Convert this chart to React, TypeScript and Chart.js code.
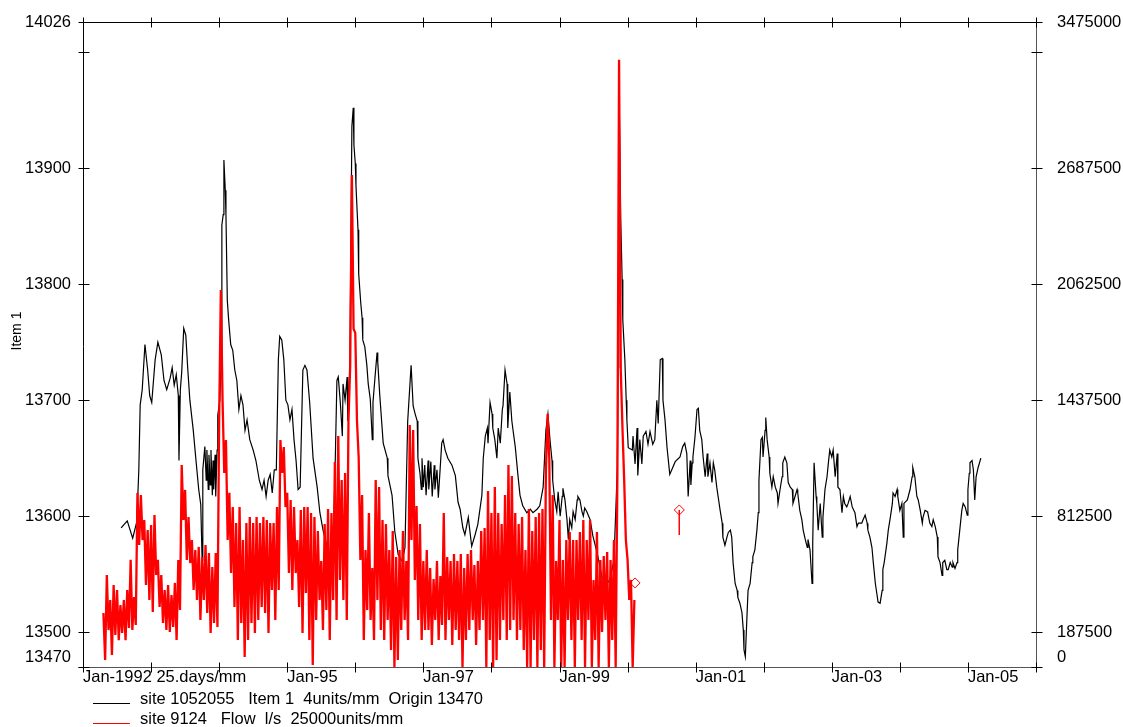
import React, { useEffect, useRef } from 'react';
import { Chart, registerables } from 'chart.js';

Chart.register(...registerables);

// ---------- axis ticks ----------
const xTickYears = [1992, 1993, 1994, 1995, 1996, 1997, 1998, 1999, 2000, 2001, 2002, 2003, 2004, 2005, 2006];
const xTickLabels = ['Jan-1992 25.days/mm', '', '', 'Jan-95', '', 'Jan-97', '', 'Jan-99', '', 'Jan-01', '', 'Jan-03', '', 'Jan-05', ''];
const leftTicks = [13470, 13500, 13600, 13700, 13800, 13900, 14000, 14026];
const leftTickLabels = ['13470', '13500', '13600', '13700', '13800', '13900', '', '14026'];
const rightTicks = [0, 187500, 812500, 1437500, 2062500, 2687500, 3312500, 3475000];
const rightTickLabels = ['0', '187500', '812500', '1437500', '2062500', '2687500', '', '3475000'];

// ---------- legend ----------
const legendLabels = [
  'site 1052055   Item 1  4units/mm  Origin 13470',
  'site 9124   Flow  l/s  25000units/mm',
];
const axisTitle = 'Item 1';

// ---------- black series: site 1052055 Item 1 (decimal year, level) ----------
const blackYear = [
  1992.56, 1992.65, 1992.73, 1992.79, 1992.82, 1992.84, 1992.87, 1992.91, 1992.95, 1992.98,
  1993.01, 1993.06, 1993.10, 1993.15, 1993.19, 1993.23, 1993.28, 1993.31, 1993.34, 1993.37,
  1993.40, 1993.41, 1993.43, 1993.45, 1993.48, 1993.51, 1993.54, 1993.57, 1993.62, 1993.66,
  1993.70, 1993.73, 1993.75, 1993.76, 1993.79, 1993.81, 1993.82, 1993.84, 1993.85, 1993.87,
  1993.88, 1993.90, 1993.91, 1993.92, 1993.94, 1993.95, 1993.97, 1993.98, 1994.01, 1994.03,
  1994.04, 1994.06, 1994.07, 1994.09, 1994.10, 1994.12, 1994.14, 1994.17, 1994.20, 1994.23,
  1994.26, 1994.29, 1994.32, 1994.35, 1994.38, 1994.41, 1994.45, 1994.50, 1994.54, 1994.59,
  1994.63, 1994.66, 1994.69, 1994.72, 1994.75, 1994.78, 1994.81, 1994.84, 1994.87, 1994.89,
  1994.92, 1994.95, 1994.98, 1995.01, 1995.04, 1995.07, 1995.10, 1995.13, 1995.16, 1995.19,
  1995.23, 1995.26, 1995.29, 1995.33, 1995.38, 1995.44, 1995.48, 1995.53, 1995.58, 1995.63,
  1995.67, 1995.70, 1995.73, 1995.75, 1995.78, 1995.81, 1995.82, 1995.85, 1995.88, 1995.89,
  1995.92, 1995.95, 1995.97, 1995.98, 1996.00, 1996.01, 1996.04, 1996.05, 1996.08, 1996.10,
  1996.11, 1996.14, 1996.17, 1996.19, 1996.22, 1996.25, 1996.26, 1996.29, 1996.32, 1996.33,
  1996.36, 1996.41, 1996.47, 1996.48, 1996.54, 1996.58, 1996.63, 1996.69, 1996.73, 1996.77,
  1996.82, 1996.85, 1996.88, 1996.91, 1996.92, 1996.95, 1996.97, 1996.98, 1997.00, 1997.02,
  1997.04, 1997.07, 1997.08, 1997.11, 1997.13, 1997.16, 1997.17, 1997.20, 1997.22, 1997.25,
  1997.27, 1997.29, 1997.32, 1997.36, 1997.42, 1997.47, 1997.51, 1997.54, 1997.58, 1997.61,
  1997.64, 1997.66, 1997.71, 1997.76, 1997.80, 1997.86, 1997.88, 1997.91, 1997.94, 1997.95,
  1997.98, 1998.01, 1998.02, 1998.05, 1998.08, 1998.10, 1998.13, 1998.16, 1998.17, 1998.20,
  1998.23, 1998.24, 1998.27, 1998.30, 1998.32, 1998.35, 1998.39, 1998.42, 1998.46, 1998.52,
  1998.57, 1998.61, 1998.67, 1998.71, 1998.76, 1998.80, 1998.83, 1998.86, 1998.89, 1998.90,
  1998.93, 1998.96, 1998.98, 1999.01, 1999.04, 1999.05, 1999.08, 1999.11, 1999.13, 1999.15,
  1999.18, 1999.20, 1999.23, 1999.26, 1999.27, 1999.30, 1999.33, 1999.35, 1999.37, 1999.40,
  1999.45, 1999.49, 1999.55, 1999.60, 1999.62, 1999.68, 1999.74, 1999.80, 1999.85, 1999.86,
  1999.87, 1999.90, 1999.92, 1999.93, 1999.96, 1999.98, 1999.99, 2000.01, 2000.07, 2000.08,
  2000.11, 2000.14, 2000.15, 2000.18, 2000.21, 2000.23, 2000.27, 2000.30, 2000.33, 2000.37,
  2000.40, 2000.43, 2000.45, 2000.48, 2000.51, 2000.52, 2000.55, 2000.58, 2000.62, 2000.70,
  2000.77, 2000.81, 2000.84, 2000.87, 2000.89, 2000.92, 2000.93, 2000.95, 2000.96, 2000.99,
  2001.02, 2001.04, 2001.06, 2001.09, 2001.11, 2001.14, 2001.17, 2001.18, 2001.21, 2001.24,
  2001.26, 2001.28, 2001.31, 2001.33, 2001.36, 2001.39, 2001.40, 2001.43, 2001.46, 2001.48,
  2001.51, 2001.53, 2001.55, 2001.58, 2001.61, 2001.62, 2001.65, 2001.68, 2001.70, 2001.71,
  2001.73, 2001.75, 2001.77, 2001.80, 2001.83, 2001.84, 2001.87, 2001.90, 2001.92, 2001.93,
  2001.96, 2001.98, 2001.99, 2002.02, 2002.03, 2002.05, 2002.08, 2002.09, 2002.12, 2002.14,
  2002.17, 2002.20, 2002.21, 2002.24, 2002.27, 2002.28, 2002.31, 2002.34, 2002.36, 2002.39,
  2002.42, 2002.43, 2002.46, 2002.49, 2002.50, 2002.53, 2002.56, 2002.58, 2002.61, 2002.64,
  2002.65, 2002.68, 2002.71, 2002.72, 2002.74, 2002.77, 2002.78, 2002.80, 2002.83, 2002.86,
  2002.87, 2002.90, 2002.93, 2002.95, 2002.97, 2003.00, 2003.02, 2003.05, 2003.08, 2003.09,
  2003.12, 2003.15, 2003.17, 2003.19, 2003.22, 2003.24, 2003.27, 2003.30, 2003.31, 2003.34,
  2003.37, 2003.39, 2003.41, 2003.44, 2003.46, 2003.49, 2003.52, 2003.53, 2003.56, 2003.59,
  2003.61, 2003.64, 2003.66, 2003.68, 2003.71, 2003.74, 2003.75, 2003.77, 2003.81, 2003.83,
  2003.86, 2003.89, 2003.90, 2003.93, 2003.96, 2003.97, 2004.00, 2004.03, 2004.05, 2004.06,
  2004.11, 2004.15, 2004.18, 2004.19, 2004.22, 2004.25, 2004.27, 2004.30, 2004.33, 2004.34,
  2004.37, 2004.40, 2004.41, 2004.44, 2004.47, 2004.49, 2004.52, 2004.55, 2004.56, 2004.59,
  2004.62, 2004.63, 2004.66, 2004.69, 2004.71, 2004.74, 2004.77, 2004.78, 2004.81, 2004.84,
  2004.85, 2004.88, 2004.91, 2004.93, 2004.96, 2004.99, 2005.00, 2005.02, 2005.03, 2005.06,
  2005.08, 2005.10, 2005.12, 2005.15, 2005.16, 2005.19,
];
const blackLevel = [
  13590, 13596, 13581, 13595, 13640, 13696, 13709, 13748, 13726, 13704,
  13698, 13735, 13750, 13739, 13717, 13709, 13719, 13728, 13713, 13722,
  13704, 13648, 13709, 13724, 13762, 13756, 13726, 13700, 13674, 13648,
  13623, 13610, 13562, 13640, 13660, 13631, 13657, 13623, 13653, 13627,
  13657, 13618, 13648, 13623, 13653, 13617, 13657, 13687, 13700, 13739,
  13851, 13860, 13907, 13881, 13860, 13786, 13769, 13748, 13743, 13726,
  13717, 13692, 13704, 13696, 13674, 13683, 13666, 13657, 13648, 13631,
  13623, 13631, 13617, 13631, 13636, 13620, 13640, 13640, 13735, 13755,
  13752, 13735, 13700, 13696, 13683, 13692, 13666, 13648, 13623, 13625,
  13726, 13730, 13726, 13698, 13650, 13625, 13603, 13587, 13575, 13567,
  13561, 13631, 13717, 13720, 13698, 13669, 13714, 13700, 13720, 13682,
  13726, 13936, 13952, 13920, 13904, 13885, 13847, 13809, 13784, 13771,
  13752, 13746, 13730, 13714, 13701, 13666, 13698, 13720, 13741, 13733,
  13704, 13663, 13650, 13635, 13618, 13587, 13567, 13561, 13573, 13682,
  13730, 13695, 13688, 13682, 13650, 13637, 13623, 13650, 13625, 13644,
  13618, 13648, 13623, 13647, 13617, 13644, 13623, 13640, 13616, 13644,
  13663, 13666, 13657, 13650, 13644, 13635, 13612, 13606, 13590, 13584,
  13593, 13599, 13574, 13584, 13593, 13618, 13650, 13669, 13676, 13663,
  13698, 13688, 13676, 13666, 13650, 13676, 13663, 13692, 13695, 13726,
  13714, 13676, 13707, 13682, 13673, 13660, 13635, 13618, 13609, 13603,
  13606, 13603, 13606, 13609, 13625, 13674, 13688, 13666, 13648, 13631,
  13614, 13604, 13621, 13600, 13617, 13624, 13614, 13597, 13580, 13597,
  13590, 13604, 13597, 13614, 13617, 13614, 13604, 13600, 13607, 13604,
  13597, 13583, 13569, 13555, 13548, 13541, 13545, 13562, 13642, 13728,
  13993, 13855, 13804, 13769, 13735, 13700, 13683, 13659, 13657, 13669,
  13645, 13676, 13635, 13666, 13645, 13669, 13673, 13662, 13673, 13662,
  13666, 13700, 13680, 13735, 13736, 13700, 13683, 13659, 13636, 13647,
  13651, 13660, 13663, 13654, 13617, 13648, 13627, 13646, 13651, 13668,
  13692, 13693, 13674, 13666, 13651, 13634, 13654, 13634, 13646, 13629,
  13646, 13640, 13625, 13617, 13605, 13594, 13582, 13575, 13582, 13586,
  13588, 13582, 13560, 13542, 13536, 13530, 13525, 13517, 13502, 13485,
  13479, 13508, 13536, 13542, 13560, 13565, 13571, 13588, 13603, 13631,
  13666, 13668, 13651, 13674, 13685, 13666, 13651, 13637, 13625, 13634,
  13625, 13620, 13611, 13623, 13634, 13646, 13651, 13646, 13629, 13625,
  13623, 13611, 13617, 13623, 13620, 13605, 13597, 13588, 13580, 13573,
  13580, 13571, 13542, 13577, 13646, 13617, 13611, 13588, 13611, 13582,
  13599, 13623, 13634, 13646, 13657, 13651, 13657, 13634, 13654, 13625,
  13623, 13603, 13617, 13611, 13608, 13611, 13617, 13608, 13608, 13603,
  13591, 13594, 13594, 13594, 13597, 13601, 13594, 13588, 13582, 13573,
  13560, 13542, 13534, 13526, 13525, 13536, 13554, 13560, 13577, 13588,
  13599, 13611, 13620, 13617, 13623, 13617, 13605, 13611, 13582, 13611,
  13614, 13623, 13634, 13642, 13634, 13617, 13614, 13605, 13594, 13599,
  13605, 13604, 13603, 13594, 13591, 13597, 13591, 13582, 13565, 13560,
  13549, 13560, 13562, 13554, 13554, 13560, 13556, 13560, 13555, 13560,
  13571, 13588, 13605, 13611, 13608, 13601, 13623, 13637, 13646, 13648,
  13640, 13614, 13634, 13642, 13642, 13650,
];

// ---------- red series: site 9124 Flow l/s (regular samples) ----------
const redStartYear = 1992.30;
const redStepYears = 0.025;
const redFlow = [
  291000, 38000, 496000, 199000, 361000, 65000, 442000, 172000, 415000, 145000,
  334000, 183000, 361000, 145000, 415000, 210000, 577000, 199000, 377000, 226000,
  938000, 657000, 927000, 684000, 792000, 442000, 738000, 361000, 765000, 296000,
  819000, 496000, 577000, 323000, 496000, 237000, 415000, 199000, 442000, 189000,
  388000, 216000, 453000, 145000, 577000, 307000, 1088000, 792000, 954000, 577000,
  808000, 560000, 684000, 415000, 630000, 361000, 647000, 253000, 593000, 361000,
  657000, 291000, 614000, 183000, 539000, 237000, 614000, 216000, 1331000, 2031000,
  1439000, 1045000, 1223000, 684000, 938000, 506000, 862000, 323000, 776000, 145000,
  862000, 237000, 684000, 54000, 776000, 145000, 808000, 237000, 776000, 183000,
  808000, 253000, 776000, 323000, 808000, 291000, 792000, 183000, 776000, 415000,
  776000, 253000, 862000, 415000, 1223000, 1045000, 1185000, 862000, 938000, 506000,
  900000, 415000, 862000, 506000, 684000, 323000, 846000, 183000, 862000, 399000,
  862000, 145000, 830000, 11000, 808000, 253000, 733000, 361000, 571000, 199000,
  770000, 307000, 851000, 145000, 830000, 361000, 1105000, 253000, 1245000, 469000,
  1008000, 361000, 1045000, 253000, 1331000, 1622000, 2651000, 1821000, 1800000, 1325000,
  1126000, 577000, 927000, 145000, 630000, 307000, 830000, 253000, 533000, 145000,
  1008000, 361000, 970000, 199000, 792000, 145000, 770000, 253000, 630000, 92000,
  733000, 0, 593000, 38000, 630000, 199000, 733000, 253000, 571000, 145000,
  1304000, 684000, 1277000, 469000, 867000, 253000, 770000, 145000, 571000, 199000,
  630000, 199000, 533000, 119000, 474000, 253000, 571000, 145000, 490000, 226000,
  830000, 145000, 593000, 253000, 571000, 119000, 609000, 199000, 571000, 145000,
  609000, 0, 533000, 145000, 609000, 199000, 630000, 253000, 550000, 119000,
  571000, 199000, 733000, 253000, 749000, 0, 948000, 145000, 830000, 0,
  970000, 38000, 830000, 145000, 770000, 253000, 927000, 145000, 1088000, 199000,
  1029000, 253000, 830000, 145000, 770000, 199000, 808000, 92000, 630000, 0,
  851000, 0, 733000, 145000, 808000, 0, 830000, 92000, 851000, 0,
  1045000, 1363000, 1126000, 253000, 927000, 0, 571000, 253000, 792000, 0,
  577000, 0, 684000, 253000, 727000, 145000, 684000, 0, 684000, 253000,
  727000, 145000, 792000, 0, 684000, 253000, 792000, 0, 469000, 145000,
  727000, 0, 577000, 189000, 598000, 253000, 620000, 0, 577000, 145000,
  684000, 0, 1008000, 3271000, 1600000, 1288000, 1008000, 684000, 577000, 361000,
  469000, 0, 361000,
];

// isolated flow readings drawn as hollow diamonds
const markerAYear = [2000.11];
const markerAFlow = [453000];
const markerBYear = [2000.76, 2000.76];
const markerBFlow = [846000, 711000];

const FONT = "'Liberation Sans', Arial, Helvetica, sans-serif";

const framePlugin = {
  id: 'frameTicksLegend',
  afterDraw(chart: any) {
    const ctx = chart.ctx as CanvasRenderingContext2D;
    const { left, right, top, bottom } = chart.chartArea;
    const xs = chart.scales.x;
    const yl = chart.scales.y;
    const yr = chart.scales.y1;
    const L = Math.round(left) + 0.5;
    const R = Math.round(right) + 0.5;
    const T = Math.round(top) + 0.5;
    const B = Math.round(bottom) + 0.5;
    ctx.save();
    ctx.lineWidth = 1;
    // frame
    ctx.strokeStyle = '#000';
    ctx.beginPath();
    ctx.moveTo(L, T); ctx.lineTo(R, T);
    ctx.moveTo(L, T); ctx.lineTo(L, B + 3);
    ctx.stroke();
    ctx.strokeStyle = '#555';
    ctx.beginPath();
    ctx.moveTo(L - 5, B); ctx.lineTo(R, B);
    ctx.moveTo(R, T); ctx.lineTo(R, B);
    ctx.stroke();
    // ticks on all four sides
    ctx.strokeStyle = '#000';
    ctx.beginPath();
    xTickYears.forEach((yv) => {
      const px = Math.round(xs.getPixelForValue(yv)) + 0.5;
      ctx.moveTo(px, B - 5); ctx.lineTo(px, B + 5);
      ctx.moveTo(px, T - 5); ctx.lineTo(px, T + 5);
    });
    leftTicks.forEach((v) => {
      const py = Math.round(yl.getPixelForValue(v)) + 0.5;
      ctx.moveTo(L - 5, py); ctx.lineTo(L + 6, py);
    });
    rightTicks.forEach((v) => {
      const py = Math.round(yr.getPixelForValue(v)) + 0.5;
      ctx.moveTo(R - 5, py); ctx.lineTo(R + 6, py);
    });
    ctx.stroke();

    // y axis title
    ctx.fillStyle = '#000';
    ctx.font = `14px ${FONT}`;
    ctx.save();
    ctx.translate(17, 331);
    ctx.rotate(-Math.PI / 2);
    ctx.textAlign = 'center';
    ctx.textBaseline = 'middle';
    ctx.fillText(axisTitle, 0, 0);
    ctx.restore();

    // legend
    const colors = ['#000000', '#ff0000'];
    const rowsY = [699, 719];
    const lineY = [703.5, 723.5];
    ctx.font = `16.5px ${FONT}`;
    ctx.textAlign = 'left';
    ctx.textBaseline = 'middle';
    legendLabels.forEach((lbl, i) => {
      ctx.strokeStyle = colors[i];
      ctx.beginPath();
      ctx.moveTo(93, lineY[i]);
      ctx.lineTo(130, lineY[i]);
      ctx.stroke();
      ctx.fillStyle = '#000';
      ctx.fillText(lbl, 140, rowsY[i]);
    });
    ctx.restore();
  },
};

export default function App() {
  const canvasRef = useRef<HTMLCanvasElement | null>(null);

  useEffect(() => {
    const canvas = canvasRef.current;
    if (!canvas) return;
    const blackData = blackYear.map((x, i) => ({ x, y: blackLevel[i] }));
    const redData = redFlow.map((v, i) => ({ x: redStartYear + i * redStepYears, y: v }));
    const markerA = markerAYear.map((x, i) => ({ x, y: markerAFlow[i] }));
    const markerB = markerBYear.map((x, i) => ({ x, y: markerBFlow[i] }));

    const tickFont = { family: FONT, size: 16.5 };

    const chart = new Chart(canvas, {
      type: 'line',
      data: {
        datasets: [
          {
            label: 'site 9124 Flow l/s',
            data: redData,
            yAxisID: 'y1',
            borderColor: '#ff0000',
            borderWidth: 2.3,
            borderJoinStyle: 'miter',
            pointRadius: 0,
            tension: 0,
            fill: false,
            order: 0,
          },
          {
            label: 'site 1052055 Item 1',
            data: blackData,
            yAxisID: 'y',
            borderColor: '#000000',
            borderWidth: 1.2,
            pointRadius: 0,
            tension: 0,
            fill: false,
            order: 1,
          },
          {
            label: 'flow reading A',
            data: markerA,
            yAxisID: 'y1',
            showLine: false,
            pointStyle: 'rectRot',
            pointRadius: 5,
            borderColor: '#ff0000',
            backgroundColor: 'rgba(255,255,255,0)',
            borderWidth: 1,
            order: 0,
          },
          {
            label: 'flow reading B',
            data: markerB,
            yAxisID: 'y1',
            showLine: true,
            pointStyle: 'rectRot',
            pointRadius: [5, 0],
            borderColor: '#ff0000',
            backgroundColor: 'rgba(255,255,255,0)',
            borderWidth: 1,
            order: 0,
          },
        ],
      } as any,
      options: {
        responsive: false,
        animation: false,
        devicePixelRatio: 1,
        events: [],
        layout: { padding: { top: 22, left: 0, right: 0, bottom: 0 } },
        plugins: {
          legend: { display: false },
          tooltip: { enabled: false },
          title: { display: false },
        },
        scales: {
          x: {
            type: 'linear',
            position: 'bottom',
            min: 1992,
            max: 2006,
            grid: { display: false, drawTicks: false },
            border: { display: false },
            afterBuildTicks: (s: any) => {
              s.ticks = xTickYears.map((v) => ({ value: v }));
            },
            afterFit: (s: any) => {
              s.height = 60;
              s.paddingLeft = 0;
              s.paddingRight = 0;
            },
            ticks: {
              autoSkip: false,
              maxRotation: 0,
              minRotation: 0,
              align: 'start',
              padding: 1,
              color: '#000',
              font: tickFont,
              callback: (_v: any, i: number) => xTickLabels[i] ?? '',
            },
          },
          y: {
            type: 'linear',
            position: 'left',
            min: 13470,
            max: 14026,
            grid: { display: false, drawTicks: false },
            border: { display: false },
            afterBuildTicks: (s: any) => {
              s.ticks = leftTicks.map((v) => ({ value: v }));
            },
            afterFit: (s: any) => {
              s.width = 83;
              s.paddingTop = 0;
              s.paddingBottom = 0;
            },
            ticks: {
              autoSkip: false,
              padding: 12,
              color: '#000',
              font: tickFont,
              callback: (_v: any, i: number) => (i === 0 ? [leftTickLabels[i], ''] : leftTickLabels[i] ?? ''),
            },
          },
          y1: {
            type: 'linear',
            position: 'right',
            min: 0,
            max: 3475000,
            grid: { display: false, drawTicks: false },
            border: { display: false },
            afterBuildTicks: (s: any) => {
              s.ticks = rightTicks.map((v) => ({ value: v }));
            },
            afterFit: (s: any) => {
              s.width = 87;
              s.paddingTop = 0;
              s.paddingBottom = 0;
            },
            ticks: {
              autoSkip: false,
              padding: 21,
              color: '#000',
              font: tickFont,
              callback: (_v: any, i: number) => (i === 0 ? [rightTickLabels[i], ''] : rightTickLabels[i] ?? ''),
            },
          },
        },
      } as any,
      plugins: [framePlugin],
    });

    return () => {
      chart.destroy();
    };
  }, []);

  return (
    <div style={{ position: 'absolute', left: 0, top: 0, width: 1123, height: 727, background: '#ffffff' }}>
      <canvas ref={canvasRef} width={1123} height={727} style={{ display: 'block', width: 1123, height: 727 }} />
    </div>
  );
}
